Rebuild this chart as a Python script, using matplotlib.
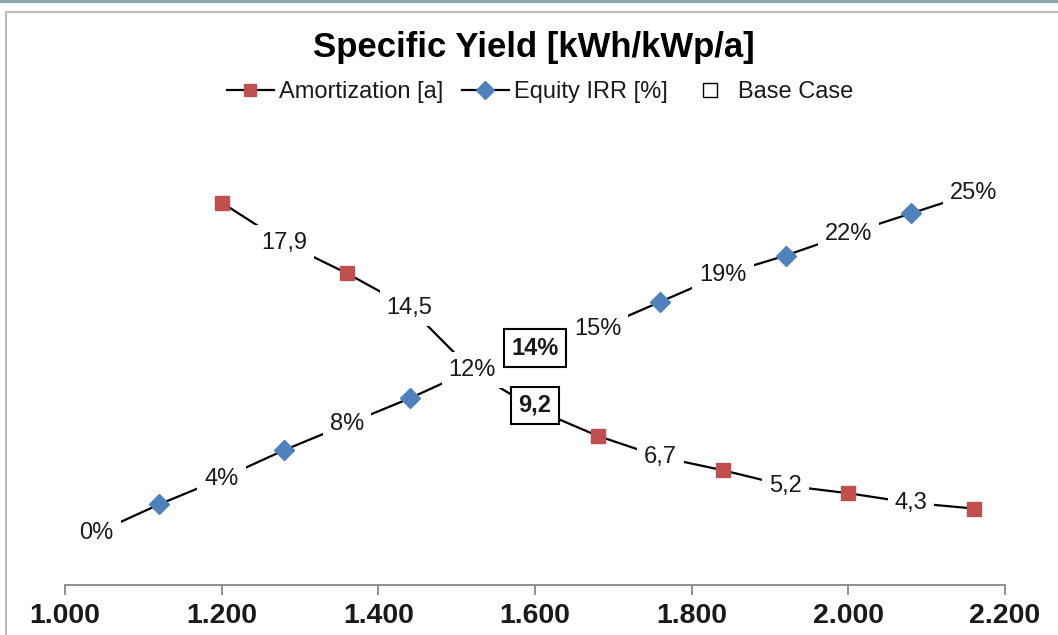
import matplotlib.pyplot as plt
from matplotlib.lines import Line2D

# data
amort_x = [1200, 1280, 1360, 1440, 1520, 1600, 1680, 1760, 1840, 1920, 2000, 2080, 2160]
amort_y = [20.0, 17.9, 16.3, 14.5, 11.2, 9.2, 7.8, 6.7, 6.0, 5.2, 4.8, 4.3, 4.0]
amort_lbl = ['', '17,9', '', '14,5', '', '', '', '6,7', '', '5,2', '', '4,3', '']

irr_x = [1040, 1120, 1200, 1280, 1360, 1440, 1520, 1600, 1680, 1760, 1840, 1920, 2000, 2080, 2160]
irr_y = [0, 2.1, 4, 6.1, 8, 9.9, 12, 13.6, 15, 17.0, 19, 20.4, 22, 23.5, 25]
irr_lbl = ['0%', '', '4%', '', '8%', '', '12%', '', '15%', '', '19%', '', '22%', '', '25%']

base_x = 1600
base_irr = 13.6
base_amort = 9.2
base_lbl = ['14%', '9,2']

xticks = [1000, 1200, 1400, 1600, 1800, 2000, 2200]
xticklabels = ['1.000', '1.200', '1.400', '1.600', '1.800', '2.000', '2.200']

RED = '#C0504D'
BLUE = '#4F81BD'
TXT = '#1a1a1a'

plt.rcParams['font.family'] = ['Liberation Sans', 'DejaVu Sans']

fig = plt.figure(figsize=(10.58, 6.35), dpi=100)
W, H = 1058, 635
ax = fig.add_axes([65 / W, 1 - 585 / H, 940 / W, 435 / H])
ax2 = ax.twinx()

ax.set_xlim(1000, 2200)
ax.set_ylim(0, 435 / 19.12)
ax2.set_ylim(-52 / 13.6, (533 - 150) / 13.6)

for a in (ax, ax2):
    for s in ['top', 'right', 'left']:
        a.spines[s].set_visible(False)
    a.set_yticks([])
ax2.spines['bottom'].set_visible(False)
ax.spines['bottom'].set_color('#888888')
ax.spines['bottom'].set_linewidth(1.3)
ax.set_xticks(xticks)
ax.set_xticklabels(xticklabels, fontsize=20.5, fontweight='bold', color=TXT)
ax.tick_params(axis='x', length=7, width=1.3, color='#888888', pad=6)

ax.plot(amort_x, amort_y, color='black', lw=1.6, zorder=2)
mx = [x for x, l in zip(amort_x, amort_lbl) if l == '' and x != base_x and x != 1520]
my = [y for x, y, l in zip(amort_x, amort_y, amort_lbl) if l == '' and x != base_x and x != 1520]
ax.plot(mx, my, 's', color=RED, ms=9.5, zorder=3, lw=0)
for x, y, l in zip(amort_x, amort_y, amort_lbl):
    if l:
        ax.text(x, y, l, ha='center', va='center', fontsize=17, color=TXT, zorder=5,
                bbox=dict(boxstyle='square,pad=0.3', fc='white', ec='none'))

ax2.plot(irr_x, irr_y, color='black', lw=1.6, zorder=2)
ix = [x for x, l in zip(irr_x, irr_lbl) if l == '' and x != base_x]
iy = [y for x, y, l in zip(irr_x, irr_y, irr_lbl) if l == '' and x != base_x]
ax2.plot(ix, iy, 'D', color=BLUE, ms=10, zorder=3, lw=0)
for x, y, l in zip(irr_x, irr_y, irr_lbl):
    if l:
        ax2.text(x, y, l, ha='center', va='center', fontsize=17, color=TXT, zorder=5,
                 bbox=dict(boxstyle='square,pad=0.3', fc='white', ec='none'))

# base case
ax2.plot([base_x], [base_irr], 's', mfc='none', mec='black', ms=9, zorder=4)
ax.plot([base_x], [base_amort], 's', mfc='none', mec='black', ms=9, zorder=4)
ax2.text(base_x, base_irr, base_lbl[0], ha='center', va='center', fontsize=17,
         fontweight='bold', color=TXT, zorder=6,
         bbox=dict(boxstyle='square,pad=0.3', fc='white', ec='black', lw=1.5))
ax.text(base_x, base_amort + 0.2, base_lbl[1], ha='center', va='center', fontsize=17,
        fontweight='bold', color=TXT, zorder=6,
        bbox=dict(boxstyle='square,pad=0.3', fc='white', ec='black', lw=1.5))
ax2.set_zorder(ax.get_zorder() + 1)
ax2.patch.set_visible(False)

fig.text(534 / W, 1 - 47 / H, 'Specific Yield [kWh/kWp/a]', ha='center', va='center',
         fontsize=25, fontweight='bold', color='black')

handles = [
    Line2D([], [], color='black', lw=1.6, marker='s', mfc=RED, mec=RED, ms=9),
    Line2D([], [], color='black', lw=1.6, marker='D', mfc=BLUE, mec=BLUE, ms=9),
    Line2D([], [], color='none', marker='s', mfc='none', mec='black', ms=10),
]
fig.legend(handles, ['Amortization [a]', 'Equity IRR [%]', 'Base Case'],
           loc='center', bbox_to_anchor=(540 / W, 1 - 92 / H), ncol=3, frameon=False,
           fontsize=17, handlelength=2.0, handletextpad=0.2, columnspacing=0.8,
           labelcolor=TXT)

# frame around the chart and strip at the top
fig.add_artist(Line2D([0, 1], [1 - 1 / H, 1 - 1 / H], color='#8fa3ad', lw=3))
fig.add_artist(Line2D([6 / W, 1], [1 - 12 / H, 1 - 12 / H], color='#bbbbbb', lw=1.5))
fig.add_artist(Line2D([6 / W, 6 / W], [0, 1 - 12 / H], color='#bbbbbb', lw=1.5))

fig.savefig('out.png', dpi=100)
